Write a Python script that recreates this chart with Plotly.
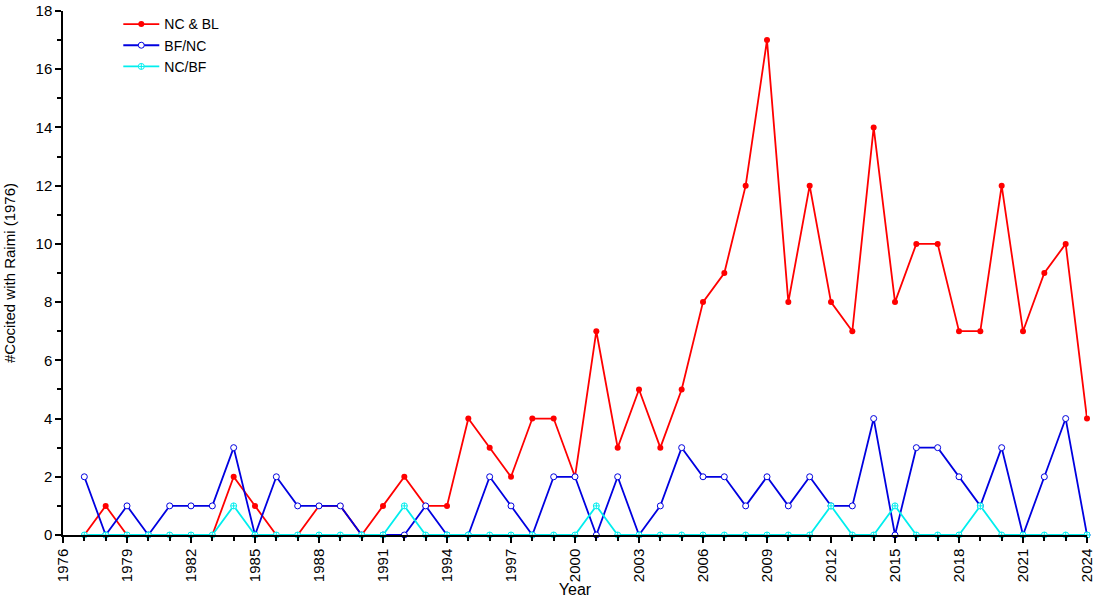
import plotly.graph_objects as go

years = list(range(1977, 2025))

nc_bl = [0, 1, 0, 0, 0, 0, 0, 2, 1, 0, 0, 1, 1, 0, 1, 2, 1, 1, 4, 3,
         2, 4, 4, 2, 7, 3, 5, 3, 5, 8, 9, 12, 17, 8, 12, 8, 7, 14, 8, 10,
         10, 7, 7, 12, 7, 9, 10, 4]
bf_nc = [2, 0, 1, 0, 1, 1, 1, 3, 0, 2, 1, 1, 1, 0, 0, 0, 1, 0, 0, 2,
         1, 0, 2, 2, 0, 2, 0, 1, 3, 2, 2, 1, 2, 1, 2, 1, 1, 4, 0, 3,
         3, 2, 1, 3, 0, 2, 4, 0]
nc_bf = [0, 0, 0, 0, 0, 0, 0, 1, 0, 0, 0, 0, 0, 0, 0, 1, 0, 0, 0, 0,
         0, 0, 0, 0, 1, 0, 0, 0, 0, 0, 0, 0, 0, 0, 0, 1, 0, 0, 1, 0,
         0, 0, 1, 0, 0, 0, 0, 0]

x_ticks = list(range(1976, 2025, 3))
y_ticks = list(range(0, 19, 2))

RED  = "#FF0000"
BLUE = "#0000E0"
CYAN = "#00EEEE"

fig = go.Figure()
fig.add_trace(go.Scatter(
	x=years, y=nc_bl, name="NC & BL", mode="lines+markers",
	line=dict(color=RED, width=1.8),
	marker=dict(symbol="circle", size=6, color=RED),
	cliponaxis=False,
))
fig.add_trace(go.Scatter(
	x=years, y=bf_nc, name="BF/NC", mode="lines+markers",
	line=dict(color=BLUE, width=1.8),
	marker=dict(symbol="circle", size=6, color="white", line=dict(color=BLUE, width=1)),
	cliponaxis=False,
))
fig.add_trace(go.Scatter(
	x=years, y=nc_bf, name="NC/BF", mode="lines+markers",
	line=dict(color=CYAN, width=1.8),
	marker=dict(symbol="circle-cross", size=6, color="white", line=dict(color=CYAN, width=1)),
	cliponaxis=False,
))

axis_common = dict(
	showgrid=False, zeroline=False, showline=True, linecolor="black", linewidth=1.5,
	ticks="outside", ticklen=6, tickwidth=1.5, tickcolor="black",
	tickfont=dict(size=15, color="black"), ticklabeloverflow="allow",
	automargin=False,
)

fig.update_layout(
	width=1096, height=598,
	paper_bgcolor="white", plot_bgcolor="white",
	font=dict(family="Liberation Sans, Arial", color="black", size=14),
	margin=dict(l=63, r=9, t=10, b=63),
	showlegend=True,
	legend=dict(
		x=0.054, y=1.003, xanchor="left", yanchor="top",
		bgcolor="rgba(0,0,0,0)", font=dict(size=14),
		tracegroupgap=0, itemwidth=36,
	),
	xaxis=dict(
		**axis_common, range=[1976, 2024], tickmode="array", tickvals=x_ticks,
		tickangle=-90, title=dict(text="Year", font=dict(size=16), standoff=0),
		minor=dict(ticks="outside", ticklen=4, tickwidth=1.5, tickcolor="black", dtick=1, tick0=1976),
	),
	yaxis=dict(
		**axis_common, range=[0, 18], tickmode="array", tickvals=y_ticks,
		title=dict(text="#Cocited with Raimi (1976)", font=dict(size=15), standoff=16),
		minor=dict(ticks="outside", ticklen=4, tickwidth=1.5, tickcolor="black", dtick=1, tick0=0),
	),
)

fig.write_html("out.html", config=dict(displayModeBar=False),
			   post_script="document.body.style.margin='0';")
